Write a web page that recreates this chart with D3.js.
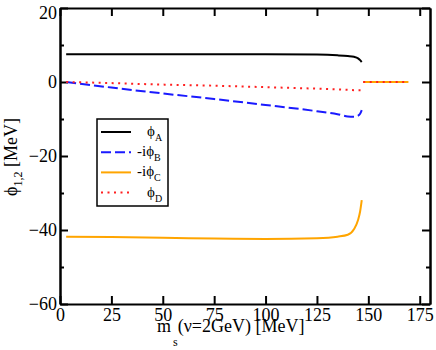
<html>
<head>
<meta charset="utf-8">
<style>
  body { margin: 0; background: white; }
  text { font-family: "Liberation Serif", "Times New Roman", serif; }
</style>
</head>
<body>
<svg width="436" height="350"></svg>
<script src="https://cdn.jsdelivr.net/npm/d3@7"></script>
<script type="text/javascript">
let svg = d3.select("svg");

// m_s values where the curves were read
const ms = [3, 25, 50, 75, 100, 125, 135, 140, 143, 145, 146, 146.8];
const phiA = [7.5, 7.5, 7.5, 7.5, 7.5, 7.4, 7.2, 7.0, 6.8, 6.4, 5.9, 5.4];
const phiB = [0, -1.5, -3.1, -4.6, -6.2, -7.9, -8.7, -9.3, -9.4, -9.1, -8.6, -7.6];
const phiC = [-41.8, -41.9, -42.1, -42.3, -42.4, -42.2, -41.8, -41.3, -39.8, -37.3, -35.0, -31.9];
const phiD = [0, -0.3, -0.7, -1.0, -1.4, -1.8, -2.0, -2.1, -2.2, -2.2, -2.2, -2.2];

// the flat piece after the jump
const msTail = [147.5, 169.5];
const tailC = [0, 0];
const tailD = [0, 0];

const xTicks = [0, 25, 50, 75, 100, 125, 150, 175];
const yTicks = [-60, -40, -20, 0, 20];
const yMinor = [-50, -30, -10, 10];

const legendNames = ["A", "B", "C", "D"];
const legendPrefix = ["", "-i", "-i", ""];

const pLeft = 60, pRight = 430, pTop = 8, pBottom = 304;
const PHI = "\u03D5";

let x = d3.scaleLinear().domain([0, 180]).range([pLeft, pRight]);
let y = d3.scaleLinear().domain([-60, 20]).range([pBottom, pTop]);

function styleAxis(g) {
  g.select(".domain").attr("stroke", "black").attr("stroke-width", 2);
  g.selectAll(".tick line").attr("stroke", "black").attr("stroke-width", 2);
  g.selectAll(".tick text").attr("font-family", "Liberation Serif").attr("font-size", 18).attr("fill", "black");
}

// bottom
svg.append("g").attr("transform", "translate(0," + pBottom + ")")
  .call(d3.axisBottom(x).tickValues(xTicks).tickSizeInner(-8).tickSizeOuter(0).tickPadding(4))
  .call(styleAxis);
// top
svg.append("g").attr("transform", "translate(0," + pTop + ")")
  .call(d3.axisTop(x).tickValues(xTicks).tickSizeInner(-8).tickSizeOuter(0).tickFormat(""))
  .call(styleAxis);
// left
let yAxisG = svg.append("g").attr("transform", "translate(" + pLeft + ",0)")
  .call(d3.axisLeft(y).tickValues(yTicks).tickSizeInner(-8).tickSizeOuter(0).tickPadding(3))
  .call(styleAxis);
// top label sits a little lower, kept inside the picture
yAxisG.selectAll(".tick text").filter(d => d === 20).attr("y", 5);
svg.append("g").attr("transform", "translate(" + pLeft + ",0)")
  .call(d3.axisLeft(y).tickValues(yMinor).tickSizeInner(-4).tickSizeOuter(0).tickFormat(""))
  .call(styleAxis);
// right
svg.append("g").attr("transform", "translate(" + pRight + ",0)")
  .call(d3.axisRight(y).tickValues(yTicks).tickSizeInner(-8).tickSizeOuter(0).tickFormat(""))
  .call(styleAxis);
svg.append("g").attr("transform", "translate(" + pRight + ",0)")
  .call(d3.axisRight(y).tickValues(yMinor).tickSizeInner(-4).tickSizeOuter(0).tickFormat(""))
  .call(styleAxis);

let line = d3.line().x(d => x(d[0])).y(d => y(d[1])).curve(d3.curveMonotoneX);
const zip = (a, b) => a.map((v, i) => [v, b[i]]);

const series = [
  {vals: phiA, color: "black", dash: null},
  {vals: phiB, color: "#1a1aff", dash: "10,4"},
  {vals: phiC, color: "#ffa500", dash: null},
  {vals: phiD, color: "#ff2020", dash: "2,4.5"}
];

svg.append("path").attr("d", line(zip(msTail, tailC))).attr("fill", "none")
  .attr("stroke", series[2].color).attr("stroke-width", 2);
svg.append("path").attr("d", line(zip(msTail, tailD))).attr("fill", "none")
  .attr("stroke", series[3].color).attr("stroke-width", 2).attr("stroke-dasharray", series[3].dash);

series.forEach(s => {
  svg.append("path").attr("d", line(zip(ms, s.vals))).attr("fill", "none")
    .attr("stroke", s.color).attr("stroke-width", 2)
    .attr("stroke-dasharray", s.dash);
});

// legend
let lg = svg.append("g");
lg.append("rect").attr("x", 97).attr("y", 119).attr("width", 71).attr("height", 87)
  .attr("fill", "white").attr("stroke", "black").attr("stroke-width", 1.5);
series.forEach((s, i) => {
  const ly = 132 + i * 20.2;
  lg.append("line").attr("x1", 101).attr("x2", 131).attr("y1", ly).attr("y2", ly)
    .attr("stroke", s.color).attr("stroke-width", 2).attr("stroke-dasharray", s.dash);
  let t = lg.append("text").attr("x", 147).attr("y", ly + 4).attr("font-size", 15)
    .attr("text-anchor", "start");
  if (legendPrefix[i]) {
    t.attr("x", 137);
  }
  t.append("tspan").text(legendPrefix[i] + PHI);
  t.append("tspan").attr("font-size", 10).attr("dy", 5).text(legendNames[i]);
});

// axis titles
let xt = svg.append("text").attr("x", 157).attr("y", 332).attr("text-anchor", "start").attr("font-size", 18);
xt.append("tspan").text("m");
xt.append("tspan").attr("font-size", 12).attr("dx", 2).attr("dy", 14).text("s");
xt.append("tspan").attr("dy", -14).text("(ν=2GeV) [MeV]");

let yt = svg.append("text").attr("transform", "translate(17,157) rotate(-90)")
  .attr("text-anchor", "middle").attr("font-size", 18);
yt.append("tspan").text(PHI);
yt.append("tspan").attr("font-size", 12).attr("dy", 5).text("1,2");
yt.append("tspan").attr("dy", -5).text(" [MeV]");
</script>
</body>
</html>
